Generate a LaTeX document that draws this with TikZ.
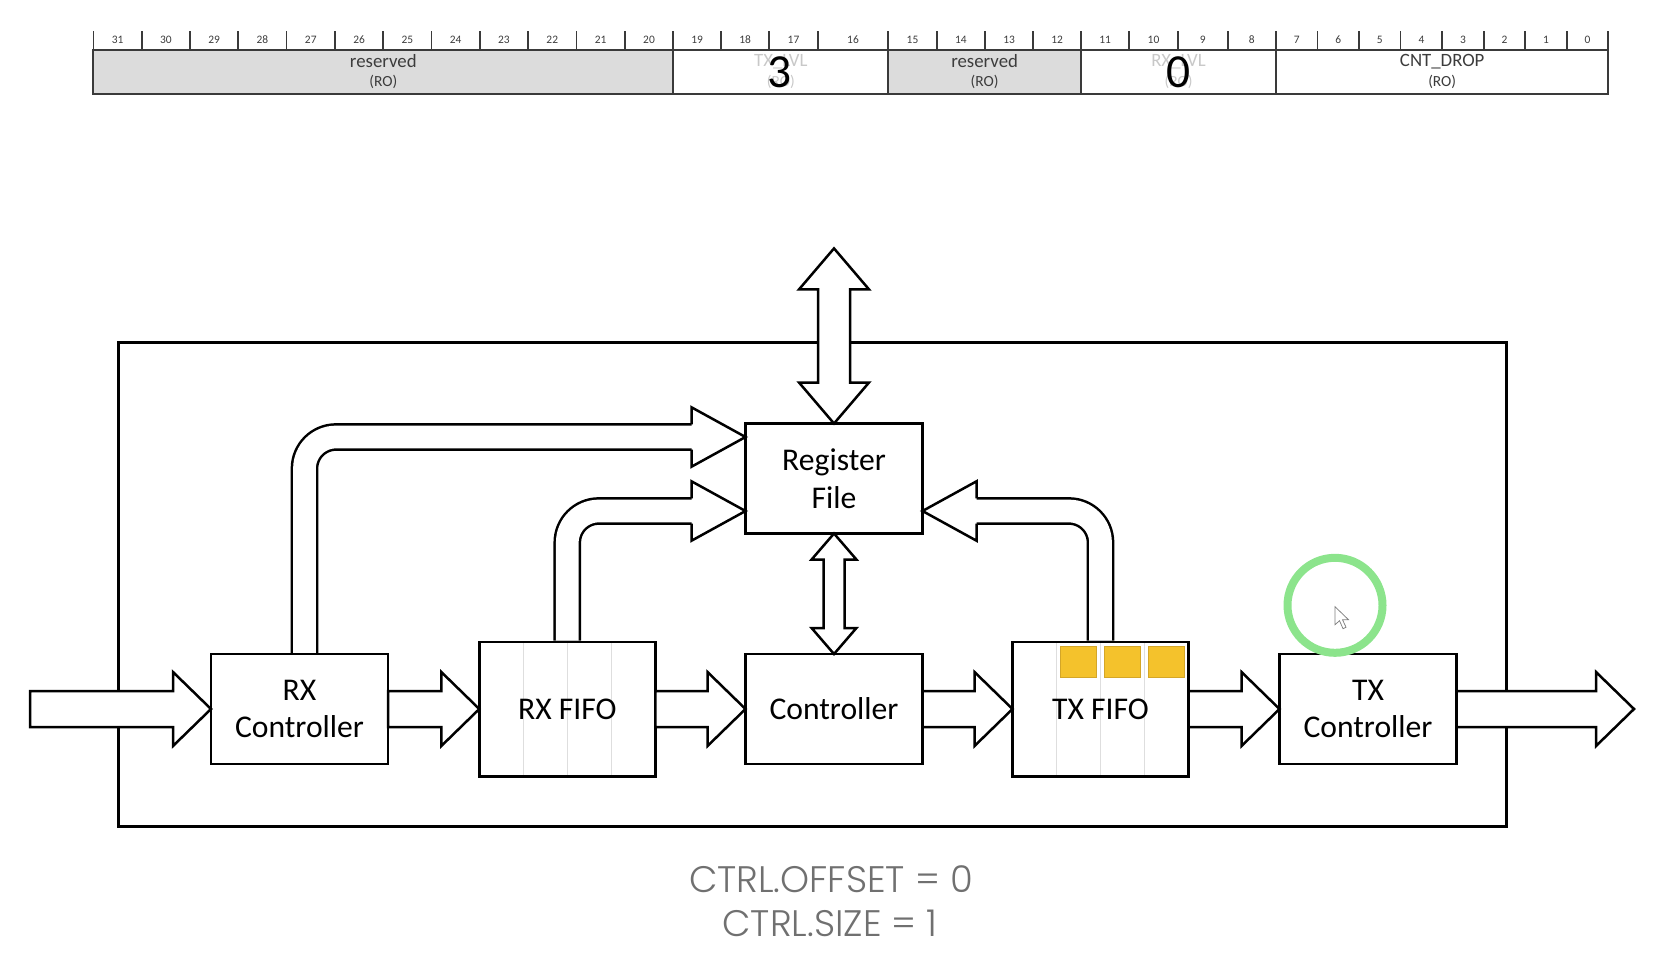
\documentclass[tikz,border=0pt]{standalone}
\usepackage{fontspec}
\setmainfont{Carlito}
\newfontfamily\popfont{Poppins Light}
\usetikzlibrary{calc}

\definecolor{regline}{RGB}{58,58,58}
\definecolor{regtext}{RGB}{60,60,60}
\definecolor{rsvgray}{RGB}{220,220,220}
\definecolor{fadegray}{RGB}{200,200,200}
\definecolor{slotgray}{RGB}{222,222,222}
\definecolor{cellgold}{RGB}{244,194,44}
\definecolor{celledge}{RGB}{212,166,40}
\definecolor{ringgreen}{RGB}{140,228,140}
\definecolor{capgray}{RGB}{112,112,112}

\tikzset{
  x=0.2mm, y=-0.2mm,
  reg/.style={draw=regline, line width=0.4mm},
  rsv/.style={fill=rsvgray},
  tick/.style={draw=regline, line width=0.35mm},
  bitno/.style={inner sep=0pt, text=regtext, font=\fontsize{6.5}{8}\selectfont},
  fname/.style={inner sep=0pt, text=regtext, font=\fontsize{10.7}{12}\selectfont},
  facc/.style={inner sep=0pt, text=regtext, font=\fontsize{8.8}{10}\selectfont},
  lvl/.style={inner sep=0pt, font=\fontsize{27}{30}\selectfont},
  chip/.style={draw, line width=0.5mm, inner sep=0pt, outer sep=0pt, minimum width=277.6mm, minimum height=96.8mm},
  blk/.style={draw, line width=0.5mm, fill=white, inner sep=0pt, outer sep=0pt, minimum width=35.4mm, minimum height=22mm, align=center, font=\fontsize{18}{21.5}\selectfont},
  slot/.style={draw=slotgray, line width=0.3mm},
  fifo/.style={blk, minimum width=35.2mm, minimum height=26.9mm,
    path picture={\foreach \i in {1,2,3} \draw[slot] ($(path picture bounding box.north west)!\i/4!(path picture bounding box.north east)$) -- ($(path picture bounding box.south west)!\i/4!(path picture bounding box.south east)$);}},
  cell/.style={fill=cellgold, draw=celledge, line width=0.15mm},
  barrow/.style={draw, line width=0.5mm, fill=white, line join=miter},
  line/.style={draw, line width=0.5mm, line join=miter, fill=white},
  pipe/.style={draw, double, double distance=4.54mm, line width=0.5mm, rounded corners=6.3mm, shorten <=0.25mm, shorten >=-0.3mm},
  ring/.style={draw=ringgreen, line width=1.6mm},
  cursor/.style={draw=gray, fill=white, line width=0.15mm},
  caption/.style={inner sep=0pt, text=capgray, font=\popfont\fontsize{21}{25}\selectfont}
}

\newcommand{\lanearrow}[2]{\draw[barrow] ($(#1)+(0,-18)$) -- ($(#2)+(-38,-18)$) -- ($(#2)+(-38,-37)$) -- (#2) -- ($(#2)+(-38,37)$) -- ($(#2)+(-38,18)$) -- ($(#1)+(0,18)$) -- cycle;}
\newcommand{\busarrow}[5]{\draw[barrow] (#1) -- ($(#1)+(#4,#5)$) -- ($(#1)+(#3,#5)$) -- ($(#2)+(#3,-#5)$) -- ($(#2)+(#4,-#5)$) -- (#2) -- ($(#2)+(-#4,-#5)$) -- ($(#2)+(-#3,-#5)$) -- ($(#1)+(-#3,#5)$) -- ($(#1)+(-#4,#5)$) -- cycle;}
\newcommand{\taparrow}[3]{\draw[pipe] (#1) |- ($(#2)+(#3,0)$);
  \draw[line] ($(#2)+(#3,-12.6)$) -- ++(0,-17.1) -- (#2) -- ($(#2)+(#3,29.7)$) -- ++(0,-17.1);}

\begin{document}
\begin{tikzpicture}
\useasboundingbox (0,0) rectangle (1668,974);

\fill[rsv] (93.4,49.5) rectangle (673.3,93.5);
\fill[rsv] (888.3,49.5) rectangle (1081,93.5);
\draw[reg] (93.4,49.5) rectangle (1608.3,93.5);
\foreach \x in {673.3,888.3,1081,1276} \draw[reg] (\x,49.5) -- (\x,93.5);
\draw[tick] (93.4,31) -- (93.4,49.5);
\foreach \x [count=\i, remember=\x as \lx (initially 93.4), evaluate=\i as \b using int(32-\i)] in {141.7,190,238.3,286.6,334.9,383.2,431.5,479.8,528.1,576.4,624.7,673.3,721,769.3,817.7,888.3,936.7,985,1033.3,1081,1129.3,1177.7,1227.7,1276,1317.5,1359.1,1400.6,1442.2,1483.7,1525.2,1566.8,1608.3}{
  \draw[tick] (\x,31) -- (\x,49.5);
  \node[bitno] (bit\b) at ({(\lx+\x)/2},40) {\b};
}
\node[fname] (rsvhi) at (383.3,61.5) {reserved};
\node[facc] (rsvhiro) at (383.3,82) {(RO)};
\node[fname, text=fadegray] (txname) at (780.8,61.5) {TX\_LVL};
\node[facc, text=fadegray] (txro) at (780.8,82) {(RO)};
\node[fname] (rsvlo) at (984.6,61.5) {reserved};
\node[facc] (rsvloro) at (984.6,82) {(RO)};
\node[fname, text=fadegray] (rxname) at (1178.5,61.5) {RX\_LVL};
\node[facc, text=fadegray] (rxro) at (1178.5,82) {(RO)};
\node[fname] (drop) at (1442.2,61.5) {CNT\_DROP};
\node[facc] (dropro) at (1442.2,82) {(RO)};
\node[lvl] (txval) at (780,72) {3};
\node[lvl] (rxval) at (1178.3,72.5) {0};

\node[chip] (chip) at (812.5,584.5) {};
\node[blk] (regf) at (834,478.5) {Register\\File};
\node[blk] (rxc) at (299.5,709) {RX\\Controller};
\node[fifo] (rxf) at (567.3,709) {RX FIFO};
\node[blk] (ctrl) at (834,709) {Controller};
\node[fifo] (txf) at (1100.5,709) {TX FIFO};
\node[blk] (txc) at (1368,709) {TX\\Controller};
\foreach \i in {1,2,3} \filldraw[cell] ($(txf.north west)+(44*\i+4,4.5)$) rectangle ++(36,31);

\coordinate (bus) at (834,248.4);
\coordinate (rxin) at (30,709);
\coordinate (txout) at (1634,709);
\coordinate (rxtap) at ([yshift=8.3mm]regf.west);
\coordinate (fifotap) at ([yshift=-6.5mm]regf.west);
\coordinate (txtap) at ([yshift=-6.5mm]regf.east);

\busarrow{bus}{regf.north}{16}{35}{41}
\busarrow{regf.south}{ctrl.north}{10.5}{22.4}{26}
\lanearrow{rxin}{rxc.west}
\lanearrow{rxc.east}{rxf.west}
\lanearrow{rxf.east}{ctrl.west}
\lanearrow{ctrl.east}{txf.west}
\lanearrow{txf.east}{txc.west}
\lanearrow{txc.east}{txout}
\taparrow{[xshift=1mm]rxc.north}{rxtap}{-54}
\taparrow{rxf.north}{fifotap}{-54}
\taparrow{txf.north}{txtap}{54}

\draw[ring] (1335,605.3) circle[radius=9.5mm];
\filldraw[cursor] (1335,606.7) -- ++(0,18) -- ++(4.5,-4) -- ++(3.5,8) -- ++(3,-1.5) -- ++(-3.5,-7.5) -- ++(6,0) -- cycle;

\node[caption, anchor=base] (offset) at (831,892.3) {CTRL.OFFSET = 0};
\node[caption, anchor=base] (size) at (830,936.7) {CTRL.SIZE = 1};
\end{tikzpicture}
\end{document}
